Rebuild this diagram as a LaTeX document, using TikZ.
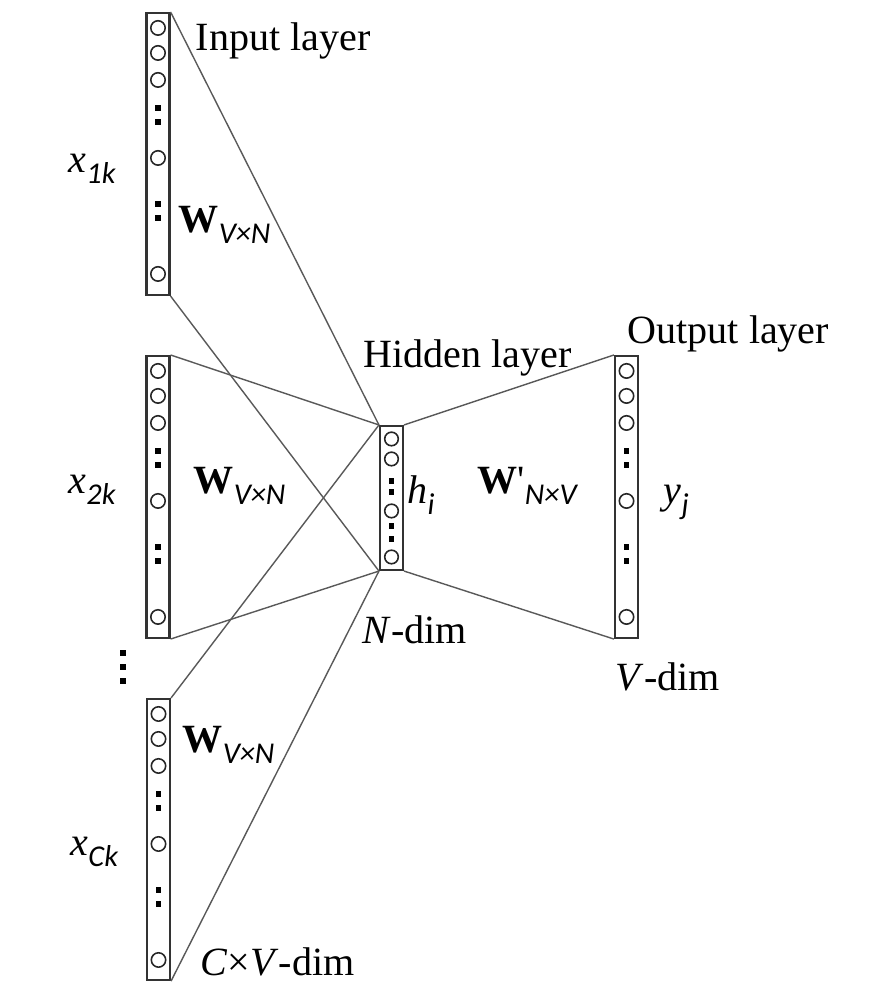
\documentclass[tikz,border=0pt]{standalone}
\usepackage{fontspec}
\setmainfont{Liberation Serif}
\newfontfamily\plainserif{Liberation Serif}
\newfontfamily\subfont{Carlito}
\newcommand{\idx}[1]{\raisebox{-3.4pt}{\fontsize{8.6}{9}\selectfont\subfont\itshape #1}}

\begin{document}
\begin{tikzpicture}[
    layer/.style={draw=black!80,line width=0.6pt,minimum width=2.3mm,inner sep=0pt},
    unit/.style={draw=black!85,line width=0.45pt},
    wire/.style={draw=black!65,line width=0.4pt},
    lbl/.style={anchor=base west,inner sep=0pt,font=\fontsize{11.4}{13}\selectfont}
  ]
    \useasboundingbox (0,0) rectangle (8.69,-9.87);

    % columns of units
    \node[layer,minimum height=28.2mm] (in1) at (1.58,-1.54) {};
    \node[layer,minimum height=28.2mm] (in2) at (1.58,-4.97) {};
    \node[layer,minimum height=28.1mm] (in3) at (1.585,-8.395) {};
    \node[layer,minimum height=14.4mm] (hid) at (3.915,-4.98) {};
    \node[layer,minimum height=28.2mm] (out) at (6.265,-4.97) {};

    \foreach \b in {in1,in2,in3,out} {
      \foreach \d in {0.16,0.41,0.68,1.46,2.62}
        \draw[unit] ([yshift=-\d cm]\b.north) circle (0.072);
      \foreach \d in {0.96,1.10,1.92,2.06}
        \fill ([yshift=-\d cm]\b.north) +(-0.028,-0.028) rectangle +(0.028,0.028);
    }
    \foreach \d in {0.14,0.34,0.86,1.32}
      \draw[unit] ([yshift=-\d cm]hid.north) circle (0.068);
    \foreach \d in {0.56,0.67,1.01,1.14}
      \fill ([yshift=-\d cm]hid.north) +(-0.027,-0.027) rectangle +(0.027,0.027);

    % more input words
    \coordinate (more) at (1.23,-6.67);
    \foreach \d in {0.14,0,-0.14}
      \fill ([yshift=\d cm]more) +(-0.03,-0.03) rectangle +(0.03,0.03);

    \draw[wire] (in1.north east) -- (hid.north west);
    \draw[wire] (in1.south east) -- (hid.south west);
    \draw[wire] (in2.north east) -- (hid.north west);
    \draw[wire] (in2.south east) -- (hid.south west);
    \draw[wire] (in3.north east) -- (hid.north west);
    \draw[wire] (in3.south east) -- (hid.south west);
    \draw[wire] (hid.north east) -- (out.north west);
    \draw[wire] (hid.south east) -- (out.south west);

    \node[lbl] (inlbl) at (1.95,-0.50) {Input layer};
    \node[lbl] (hidlbl) at (3.63,-3.67) {Hidden layer};
    \node[lbl] (outlbl) at (6.27,-3.43) {Output layer};

    \node[lbl] (x1) at (0.68,-1.72) {\textit{x}\idx{1k}};
    \node[lbl] (x2) at (0.68,-4.93) {\textit{x}\idx{2k}};
    \node[lbl] (x3) at (0.70,-8.55) {\textit{x}\idx{Ck}};

    \node[lbl] (w1) at (1.78,-2.32) {\textbf{W}\idx{V×N}};
    \node[lbl] (w2) at (1.93,-4.93) {\textbf{W}\idx{V×N}};
    \node[lbl] (w3) at (1.82,-7.52) {\textbf{W}\idx{V×N}};
    \node[lbl] (wout) at (4.77,-4.93) {\textbf{W}{\plainserif'}\idx{N×V}};

    \node[lbl] (h) at (4.07,-5.03) {\textit{h}\idx{i}};
    \node[lbl] (y) at (6.63,-5.03) {\textit{y}\idx{j}};

    \node[lbl] (ndim) at (3.62,-6.43) {\textit{N}-dim};
    \node[lbl] (vdim) at (6.15,-6.90) {\textit{V}-dim};
    \node[lbl] (cvdim) at (2.00,-9.75) {\textit{C}×\textit{V}-dim};
\end{tikzpicture}
\end{document}
